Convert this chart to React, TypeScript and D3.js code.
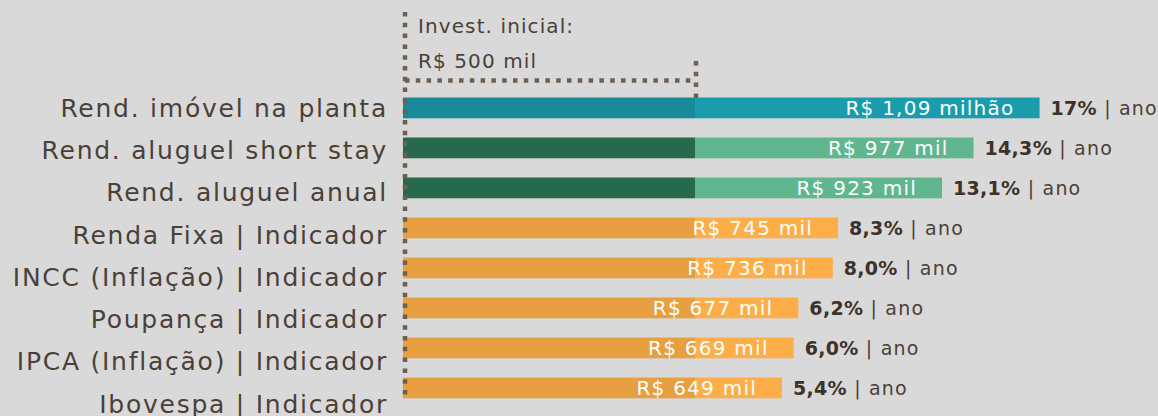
import React from "react";
import * as d3 from "d3";

const categories = [
  "Rend. imóvel na planta",
  "Rend. aluguel short stay",
  "Rend. aluguel anual",
  "Renda Fixa | Indicador",
  "INCC (Inflação) | Indicador",
  "Poupança | Indicador",
  "IPCA (Inflação) | Indicador",
  "Ibovespa | Indicador",
];
const values = [1090, 977, 923, 745, 736, 677, 669, 649];
const valueLabels = [
  "R$ 1,09 milhão",
  "R$ 977 mil",
  "R$ 923 mil",
  "R$ 745 mil",
  "R$ 736 mil",
  "R$ 677 mil",
  "R$ 669 mil",
  "R$ 649 mil",
];
const rates = ["17%", "14,3%", "13,1%", "8,3%", "8,0%", "6,2%", "6,0%", "5,4%"];
const groups = ["imovel", "aluguel", "aluguel", "indicador", "indicador", "indicador", "indicador", "indicador"];
const initialInvestment = 500;
const annotationLines = ["Invest. inicial:", "R$ 500 mil"];

const palette: Record<string, { dark: string; light: string }> = {
  imovel: { dark: "#188A9A", light: "#1B9CAD" },
  aluguel: { dark: "#27694D", light: "#5FB68F" },
  indicador: { dark: "#E89F40", light: "#FDAE48" },
};

const W = 1158;
const H = 416;
const FONT = "'DejaVu Sans', sans-serif";
const TEXT = "#4B4037";
const DOT = "#6E5F50";

export default function App() {
  const x = d3.scaleLinear().domain([0, 1290]).range([403, 403 + 1290 * 0.584]);
  const y = d3.scaleBand<string>().domain(categories).range([78.3, 417.5]).paddingInner(0.48).paddingOuter(0.48);
  const yLabel = d3.scalePoint<string>().domain(categories).range([108, 404]);

  const x0 = x(0);
  const xi = x(initialInvestment);
  const dotPath = `M${x0 + 2},12 L${x0 + 2},398 M${x0 + 2},80.5 L${xi + 1},80.5 M${xi + 1},61 L${xi + 1},99`;

  return (
    <svg
      width={W}
      height={H}
      style={{ position: "fixed", left: 0, top: 0, display: "block", background: "#D9D9D9" }}
      fontFamily={FONT}
    >
      <rect width={W} height={H} fill="#D9D9D9" />
      {categories.map((c, i) => {
        const yy = y(c)!;
        const bw = y.bandwidth();
        const col = palette[groups[i]];
        const xe = x(values[i]);
        return (
          <g key={c}>
            <rect x={x0} y={yy} width={xi - x0} height={bw} fill={col.dark} />
            <rect x={xi} y={yy} width={xe - xi} height={bw} fill={col.light} />
            <text
              x={xe - 25}
              y={yy + bw / 2}
              dy="0.36em"
              textAnchor="end"
              fill="#FFFFFF"
              fontSize={20}
              letterSpacing={1.25}
            >
              {valueLabels[i]}
            </text>
            <text x={xe + 11} y={yy + bw / 2} dy="0.36em" fontSize={19} fill={TEXT}>
              <tspan fontWeight="bold" fill="#3E3128" letterSpacing={0.3}>
                {rates[i]}
              </tspan>
              <tspan letterSpacing={1.2}>{" | ano"}</tspan>
            </text>
          </g>
        );
      })}
      {categories.map((c) => (
        <text
          key={"l" + c}
          x={388}
          y={yLabel(c)!}
          dy="0.35em"
          textAnchor="end"
          fontSize={25}
          letterSpacing={1.75}
          fill={TEXT}
        >
          {c}
        </text>
      ))}
      <path d={dotPath} fill="none" stroke={DOT} strokeWidth={4.5} strokeDasharray="4.5 6.3" />
      {annotationLines.map((t, i) => (
        <text key={t} x={418} y={33 + i * 35} fontSize={20} letterSpacing={1.1} fill={TEXT}>
          {t}
        </text>
      ))}
    </svg>
  );
}
